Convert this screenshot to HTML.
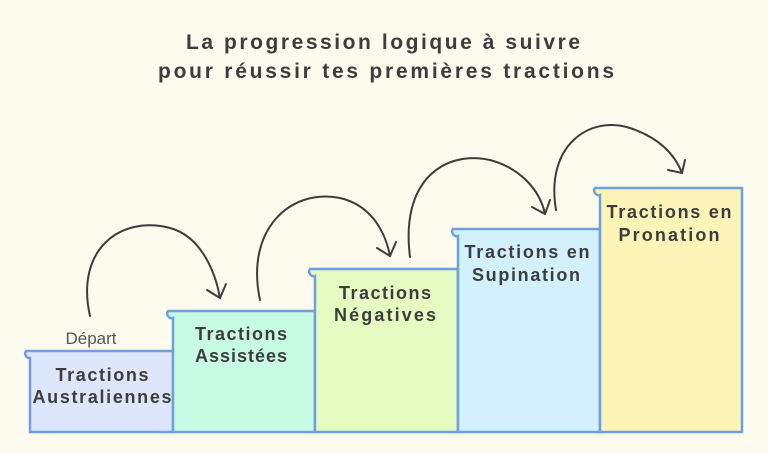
<!DOCTYPE html>
<html><head><meta charset="utf-8"><style>
html,body{margin:0;padding:0;background:#fcfbee;}
svg{display:block}
text{font-family:"Liberation Sans",sans-serif;fill:#3d3d3d}
</style></head><body>
<svg width="768" height="453" viewBox="0 0 768 453" xmlns="http://www.w3.org/2000/svg">
<rect width="768" height="453" fill="#fcfbee"/>
<text x="383" y="49" text-anchor="middle" font-size="21" font-weight="bold" textLength="394" lengthAdjust="spacing">La progression logique à suivre</text>
<text x="386" y="78" text-anchor="middle" font-size="21" font-weight="bold" textLength="456" lengthAdjust="spacing">pour réussir tes premières tractions</text>
<g stroke="#6e9fe0" stroke-width="2.5">
<path d="M30 432 V358 A4 4 0 0 1 26 356 A4 4 0 0 1 26 351 H173 V432 Z" fill="#dde6fb"/>
<path d="M173 432 V318 A4 4 0 0 1 168 316 A4 4 0 0 1 168 311 H315 V432 Z" fill="#c8fbe3"/>
<path d="M315 432 V276 A4 4 0 0 1 310 274 A4 4 0 0 1 310 269 H458 V432 Z" fill="#e6fbc2"/>
<path d="M458 432 V236 A4 4 0 0 1 453 234 A4 4 0 0 1 453 229 H600 V432 Z" fill="#d2f1fd"/>
<path d="M600 432 V195 A4 4 0 0 1 595 193 A4 4 0 0 1 595 188 H742 V432 Z" fill="#fdf4b8"/>
</g>
<g fill="none" stroke="#3d3d3d" stroke-width="2" stroke-linecap="round">
<path d="M90 316 C75 250 120 215 170 228 C200 236 215 270 220 298"/>
<path d="M207 290 L220 298 L226 284"/>
<path d="M260 300 C245 230 290 188 340 198 C370 205 385 230 390 256"/>
<path d="M377 248 L390 256 L396 242"/>
<path d="M410 257 C400 180 445 150 490 160 C520 168 540 190 545 214"/>
<path d="M532 207 L545 214 L550 200"/>
<path d="M556 210 C545 145 590 115 630 128 C660 138 675 155 682 173"/>
<path d="M668 170 L682 173 L685 160"/>
</g>
<text x="91" y="344" text-anchor="middle" font-size="17" style="fill:#555">Départ</text>
<g font-size="18" font-weight="bold" text-anchor="middle" lengthAdjust="spacing">
<text x="102" y="381" textLength="93">Tractions</text><text x="102" y="403" textLength="139">Australiennes</text>
<text x="241" y="340" textLength="92">Tractions</text><text x="241" y="362" textLength="92">Assistées</text>
<text x="385" y="299" textLength="92">Tractions</text><text x="385" y="321" textLength="102">Négatives</text>
<text x="527" y="258" textLength="125">Tractions en</text><text x="526" y="281" textLength="108">Supination</text>
<text x="669" y="218" textLength="125">Tractions en</text><text x="669" y="241" textLength="101">Pronation</text>
</g>
</svg>
</body></html>
